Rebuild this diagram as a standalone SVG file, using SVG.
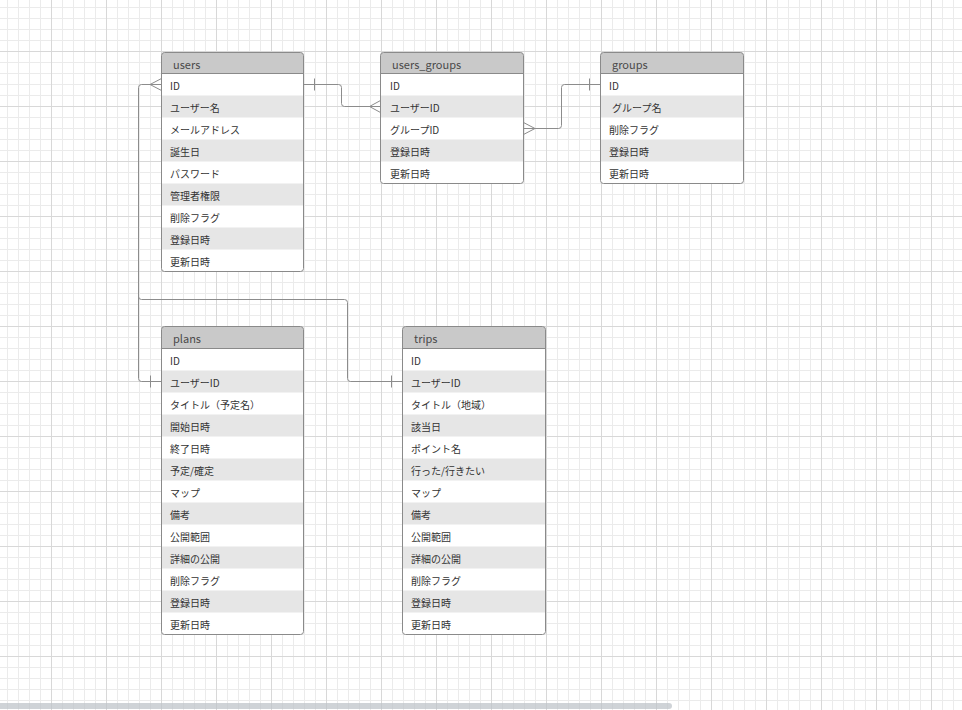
<svg xmlns="http://www.w3.org/2000/svg" width="962" height="710" viewBox="0 0 962 710">
  <style>
    .tbl { fill: #ffffff; }
    .frame { fill: none; stroke: #8a8a8a; stroke-width: 1; }
    .head { fill: #c9c9c9; }
    .sep { stroke: #8a8a8a; stroke-width: 1; }
    .alt { fill: #e6e6e6; }
    .title { font-family: "Noto Sans CJK JP", "Noto Sans", sans-serif; font-size: 11px; fill: #4a4a4a; }
    .cell { font-family: "Noto Sans CJK JP", "Noto Sans", sans-serif; font-size: 10px; fill: #333333; }
    .link { fill: none; stroke: #8c8c8c; stroke-width: 1; }
  </style>
  <defs>
    <pattern id="minorGrid" x="7" y="7" width="11" height="11" patternUnits="userSpaceOnUse">
      <path d="M0.5,0 V11 M0,0.5 H11" fill="none" stroke="#ebebeb" stroke-width="1"/>
    </pattern>
    <pattern id="majorGrid" x="51" y="51" width="55" height="55" patternUnits="userSpaceOnUse">
      <path d="M0.5,0 V55 M0,0.5 H55" fill="none" stroke="#d8d8d8" stroke-width="1"/>
    </pattern>
  </defs>

  <!-- canvas -->
  <rect width="962" height="710" fill="#ffffff"/>
  <rect width="962" height="710" fill="url(#minorGrid)"/>
  <rect width="962" height="710" fill="url(#majorGrid)"/>

  <!-- connectors -->
  <g id="connectors" class="link">
    <!-- users.ID -> users_groups.ユーザーID -->
    <path d="M303.5,84.5 H338.5 Q341.5,84.5 341.5,87.5 V103.5 Q341.5,106.5 344.5,106.5 H380.5"/>
    <path d="M314.5,78.5 V90.5"/>
    <path d="M369.5,106.5 L380.5,100.5 M369.5,106.5 L380.5,112.5"/>
    <!-- users_groups.グループID -> groups.ID -->
    <path d="M523.5,128.5 H558.5 Q561.5,128.5 561.5,125.5 V87.5 Q561.5,84.5 564.5,84.5 H600.5"/>
    <path d="M589.5,78.5 V90.5"/>
    <path d="M535,128.5 L523.5,122.5 M535,128.5 L523.5,134.5"/>
    <!-- users.ID -> plans.ユーザーID -->
    <path d="M161.5,84.5 H141.5 Q138.5,84.5 138.5,87.5 V378.5 Q138.5,381.5 141.5,381.5 H161.5"/>
    <path d="M150,84.5 L161.5,78.5 M150,84.5 L161.5,90.5"/>
    <path d="M150.5,375.5 V387.5"/>
    <!-- users.ID -> trips.ユーザーID -->
    <path d="M138.5,296.5 Q138.5,299.5 141.5,299.5 H344.5 Q347.5,299.5 347.5,302.5 V378.5 Q347.5,381.5 350.5,381.5 H402.5"/>
    <path d="M391.5,375.5 V387.5"/>
  </g>

  <!-- users -->
  <g id="users">
    <rect class="tbl" x="161.5" y="52.5" width="142" height="219" rx="3"/>
    <path class="head" d="M161.5,73.5 V55.5 Q161.5,52.5 164.5,52.5 H300.5 Q303.5,52.5 303.5,55.5 V73.5 Z"/>
    <rect class="alt" x="161.5" y="95.5" width="142" height="22"/>
    <rect class="alt" x="161.5" y="139.5" width="142" height="22"/>
    <rect class="alt" x="161.5" y="183.5" width="142" height="22"/>
    <rect class="alt" x="161.5" y="227.5" width="142" height="22"/>
    <line class="sep" x1="161.5" y1="73.5" x2="303.5" y2="73.5"/>
    <rect class="frame" x="161.5" y="52.5" width="142" height="219" rx="3"/>
    <text class="title" x="173" y="69">users</text>
    <text class="cell" x="170" y="90">ID</text>
    <text class="cell" x="170" y="112">ユーザー名</text>
    <text class="cell" x="170" y="134">メールアドレス</text>
    <text class="cell" x="170" y="156">誕生日</text>
    <text class="cell" x="170" y="178">パスワード</text>
    <text class="cell" x="170" y="200">管理者権限</text>
    <text class="cell" x="170" y="222">削除フラグ</text>
    <text class="cell" x="170" y="244">登録日時</text>
    <text class="cell" x="170" y="266">更新日時</text>
  </g>

  <!-- users_groups -->
  <g id="users_groups">
    <rect class="tbl" x="380.5" y="52.5" width="143" height="131" rx="3"/>
    <path class="head" d="M380.5,73.5 V55.5 Q380.5,52.5 383.5,52.5 H520.5 Q523.5,52.5 523.5,55.5 V73.5 Z"/>
    <rect class="alt" x="380.5" y="95.5" width="143" height="22"/>
    <rect class="alt" x="380.5" y="139.5" width="143" height="22"/>
    <line class="sep" x1="380.5" y1="73.5" x2="523.5" y2="73.5"/>
    <rect class="frame" x="380.5" y="52.5" width="143" height="131" rx="3"/>
    <text class="title" x="392" y="69">users_groups</text>
    <text class="cell" x="390" y="90">ID</text>
    <text class="cell" x="390" y="112">ユーザーID</text>
    <text class="cell" x="390" y="134">グループID</text>
    <text class="cell" x="390" y="156">登録日時</text>
    <text class="cell" x="390" y="178">更新日時</text>
  </g>

  <!-- groups -->
  <g id="groups">
    <rect class="tbl" x="600.5" y="52.5" width="143" height="131" rx="3"/>
    <path class="head" d="M600.5,73.5 V55.5 Q600.5,52.5 603.5,52.5 H740.5 Q743.5,52.5 743.5,55.5 V73.5 Z"/>
    <rect class="alt" x="600.5" y="95.5" width="143" height="22"/>
    <rect class="alt" x="600.5" y="139.5" width="143" height="22"/>
    <line class="sep" x1="600.5" y1="73.5" x2="743.5" y2="73.5"/>
    <rect class="frame" x="600.5" y="52.5" width="143" height="131" rx="3"/>
    <text class="title" x="612" y="69">groups</text>
    <text class="cell" x="609" y="90">ID</text>
    <text class="cell" x="612" y="112">グループ名</text>
    <text class="cell" x="609" y="134">削除フラグ</text>
    <text class="cell" x="609" y="156">登録日時</text>
    <text class="cell" x="609" y="178">更新日時</text>
  </g>

  <!-- plans -->
  <g id="plans">
    <rect class="tbl" x="161.5" y="326.5" width="142" height="308" rx="3"/>
    <path class="head" d="M161.5,348.5 V329.5 Q161.5,326.5 164.5,326.5 H300.5 Q303.5,326.5 303.5,329.5 V348.5 Z"/>
    <rect class="alt" x="161.5" y="370.5" width="142" height="22"/>
    <rect class="alt" x="161.5" y="414.5" width="142" height="22"/>
    <rect class="alt" x="161.5" y="458.5" width="142" height="22"/>
    <rect class="alt" x="161.5" y="502.5" width="142" height="22"/>
    <rect class="alt" x="161.5" y="546.5" width="142" height="22"/>
    <rect class="alt" x="161.5" y="590.5" width="142" height="22"/>
    <line class="sep" x1="161.5" y1="348.5" x2="303.5" y2="348.5"/>
    <rect class="frame" x="161.5" y="326.5" width="142" height="308" rx="3"/>
    <text class="title" x="173" y="343">plans</text>
    <text class="cell" x="170" y="365">ID</text>
    <text class="cell" x="170" y="387">ユーザーID</text>
    <text class="cell" x="170" y="409">タイトル（予定名）</text>
    <text class="cell" x="170" y="431">開始日時</text>
    <text class="cell" x="170" y="453">終了日時</text>
    <text class="cell" x="170" y="475">予定/確定</text>
    <text class="cell" x="170" y="497">マップ</text>
    <text class="cell" x="170" y="519">備考</text>
    <text class="cell" x="170" y="541">公開範囲</text>
    <text class="cell" x="170" y="563">詳細の公開</text>
    <text class="cell" x="170" y="585">削除フラグ</text>
    <text class="cell" x="170" y="607">登録日時</text>
    <text class="cell" x="170" y="629">更新日時</text>
  </g>

  <!-- trips -->
  <g id="trips">
    <rect class="tbl" x="402.5" y="326.5" width="143" height="308" rx="3"/>
    <path class="head" d="M402.5,348.5 V329.5 Q402.5,326.5 405.5,326.5 H542.5 Q545.5,326.5 545.5,329.5 V348.5 Z"/>
    <rect class="alt" x="402.5" y="370.5" width="143" height="22"/>
    <rect class="alt" x="402.5" y="414.5" width="143" height="22"/>
    <rect class="alt" x="402.5" y="458.5" width="143" height="22"/>
    <rect class="alt" x="402.5" y="502.5" width="143" height="22"/>
    <rect class="alt" x="402.5" y="546.5" width="143" height="22"/>
    <rect class="alt" x="402.5" y="590.5" width="143" height="22"/>
    <line class="sep" x1="402.5" y1="348.5" x2="545.5" y2="348.5"/>
    <rect class="frame" x="402.5" y="326.5" width="143" height="308" rx="3"/>
    <text class="title" x="414" y="343">trips</text>
    <text class="cell" x="411" y="365">ID</text>
    <text class="cell" x="411" y="387">ユーザーID</text>
    <text class="cell" x="411" y="409">タイトル（地域）</text>
    <text class="cell" x="411" y="431">該当日</text>
    <text class="cell" x="411" y="453">ポイント名</text>
    <text class="cell" x="411" y="475">行った/行きたい</text>
    <text class="cell" x="411" y="497">マップ</text>
    <text class="cell" x="411" y="519">備考</text>
    <text class="cell" x="411" y="541">公開範囲</text>
    <text class="cell" x="411" y="563">詳細の公開</text>
    <text class="cell" x="411" y="585">削除フラグ</text>
    <text class="cell" x="411" y="607">登録日時</text>
    <text class="cell" x="411" y="629">更新日時</text>
  </g>

  <!-- horizontal scrollbar -->
  <rect x="-4" y="703" width="676" height="6" rx="3" fill="#bfc4ca" fill-opacity="0.75"/>
</svg>
